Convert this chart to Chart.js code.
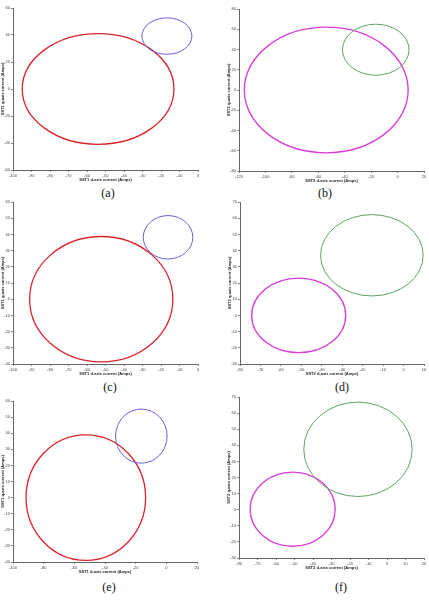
<!DOCTYPE html>
<html>
<head>
<meta charset="utf-8">
<script src="https://cdn.jsdelivr.net/npm/chart.js@4.4.1/dist/chart.umd.min.js"></script>
<style>
body { margin: 0; background: #fff; width: 429px; height: 600px; position: relative; overflow: hidden; }
.panel { position: absolute; }
.cap { position: absolute; font: 12px "Liberation Serif", "Times New Roman", serif; color: #111; transform: translate(-50%, -50%); white-space: nowrap; }
</style>
</head>
<body>
<script>
// data (one entry per panel a..f)
const panelLabels = ['(a)', '(b)', '(c)', '(d)', '(e)', '(f)'];
const machines = ['SST1', 'SST2', 'SST1', 'SST2', 'SST1', 'SST2'];
const xMin = [-100, -120, -100, -80, -100, -80];
const xMax = [0, 20, 0, 10, 20, 20];
const xStep = [10, 20, 10, 10, 20, 10];
const yMin = [-60, -80, -40, -30, -40, -30];
const yMax = [60, 80, 60, 70, 60, 70];
const yStep = [20, 20, 10, 10, 10, 10];

// big trajectory (red / magenta): centre and radius in Amps
const bigCx = [-54, -54, -52.3, -51.3, -52.5, -51];
const bigCy = [0, 0, 0, 0, 0, 0.3];
const bigR = [41, 62, 38.7, 23, 39, 23];
// small trajectory (blue / green)
const smallCx = [-16.8, -16.5, -16.2, -15.5, -16.3, -15.7];
const smallCy = [39.2, 39.8, 38.2, 37.1, 38.2, 37.5];
const smallR = [13.5, 25.2, 13.4, 25.1, 16.8, 29.3];

// layout: plot box [left, top, right, bottom] in page px, caption centre
const boxes = [
  [13, 8, 198, 170], [239, 9, 424, 171],
  [13, 202, 198, 364], [240, 202, 424, 364],
  [13, 401, 197, 562], [239, 397, 424, 558]
];
const caps = [[108, 193], [325, 193], [110, 387], [342, 387], [109, 587], [341, 587]];

const colours = {
  SST1: ['#d9232b', '#6a5fd9'],
  SST2: ['#d93ad9', '#5fa35f']
};

const orbitPlugin = {
  id: 'orbits',
  afterDatasetsDraw(chart) {
    const ctx = chart.ctx;
    const xs = chart.scales.x, ys = chart.scales.y;
    chart.data.datasets.forEach(ds => {
      ds.data.forEach(p => {
        const cx = xs.getPixelForValue(p.x);
        const cy = ys.getPixelForValue(p.y);
        const rx = Math.abs(xs.getPixelForValue(p.x + p.rad) - cx);
        const ry = Math.abs(ys.getPixelForValue(p.y + p.rad) - cy);
        ctx.save();
        ctx.beginPath();
        ctx.ellipse(cx, cy, rx, ry, 0, 0, Math.PI * 2);
        ctx.strokeStyle = ds.borderColor;
        ctx.lineWidth = ds.borderWidth;
        ctx.stroke();
        ctx.restore();
      });
    });
  }
};

const PAD_L = 13, PAD_T = 4, PAD_R = 4, PAD_B = 14;
const tickFont = { family: 'Liberation Sans, Arial, sans-serif', size: 4 };
const titleFont = { family: 'Liberation Sans, Arial, sans-serif', size: 4, weight: 'bold' };

panelLabels.forEach((lab, i) => {
  const b = boxes[i];
  const w = b[2] - b[0] + PAD_L + PAD_R;
  const h = b[3] - b[1] + PAD_T + PAD_B;
  const div = document.createElement('div');
  div.className = 'panel';
  div.style.left = (b[0] - PAD_L) + 'px';
  div.style.top = (b[1] - PAD_T) + 'px';
  const cv = document.createElement('canvas');
  cv.width = w; cv.height = h;
  div.appendChild(cv);
  document.body.appendChild(div);

  const cap = document.createElement('div');
  cap.className = 'cap';
  cap.style.left = caps[i][0] + 'px';
  cap.style.top = caps[i][1] + 'px';
  cap.textContent = lab;
  document.body.appendChild(cap);

  const m = machines[i];
  const axisCommon = {
    type: 'linear',
    grid: { drawOnChartArea: false, drawTicks: true, tickLength: 2, color: '#888' },
    border: { color: '#666', width: 1 },
  };

  new Chart(cv, {
    type: 'scatter',
    data: {
      datasets: [
        { data: [{ x: bigCx[i], y: bigCy[i], rad: bigR[i] }], borderColor: colours[m][0], borderWidth: 1.3, pointRadius: 0 },
        { data: [{ x: smallCx[i], y: smallCy[i], rad: smallR[i] }], borderColor: colours[m][1], borderWidth: 1, pointRadius: 0 }
      ]
    },
    options: {
      responsive: false,
      animation: false,
      layout: { padding: { top: PAD_T, right: PAD_R, left: 0, bottom: 0 } },
      plugins: { legend: { display: false }, tooltip: { enabled: false } },
      scales: {
        x: Object.assign({}, axisCommon, {
          min: xMin[i], max: xMax[i],
          ticks: { stepSize: xStep[i], autoSkip: false, maxRotation: 0, padding: 1, color: '#444', font: tickFont },
          title: { display: true, text: m + ' d-axis current (Amps)', color: '#222', font: titleFont, padding: { top: 0, bottom: 1.5 } },
          afterFit: s => { s.height = PAD_B; }
        }),
        y: Object.assign({}, axisCommon, {
          min: yMin[i], max: yMax[i],
          ticks: { stepSize: yStep[i], autoSkip: false, padding: 1, color: '#444', font: tickFont },
          title: { display: true, text: m + ' q-axis current (Amps)', color: '#222', font: titleFont, padding: { top: 0, bottom: 0 } },
          afterFit: s => { s.width = PAD_L; }
        })
      }
    },
    plugins: [orbitPlugin]
  });
});
</script>
</body>
</html>
